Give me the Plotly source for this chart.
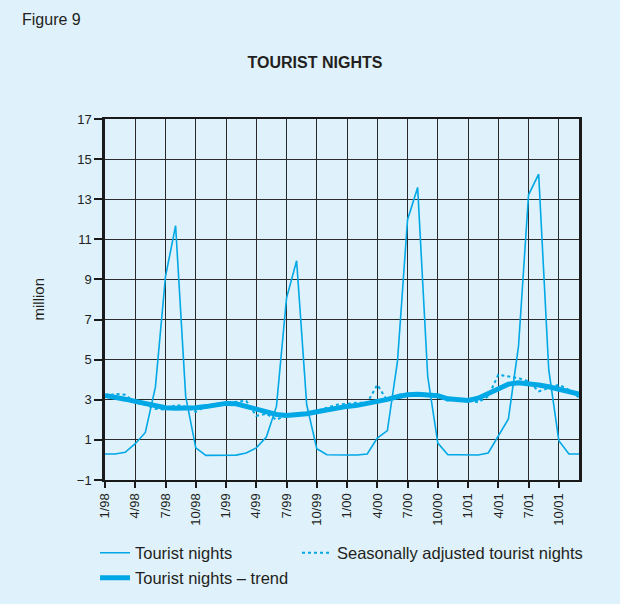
import plotly.graph_objects as go

month_labels = [f"{m}/{y:02d}" for y in (98, 99, 0, 1) for m in range(1, 13)]
months = list(range(48))

tourist_nights = [
    0.30, 0.30, 0.38, 0.81, 1.37, 3.64, 9.15, 11.68, 3.17, 0.60, 0.23, 0.23,
    0.23, 0.24, 0.35, 0.60, 1.14, 2.67, 8.07, 9.93, 2.75, 0.56, 0.26, 0.27,
    0.25, 0.25, 0.30, 1.09, 1.46, 4.91, 11.98, 13.59, 4.16, 0.84, 0.26, 0.26,
    0.25, 0.25, 0.35, 1.17, 2.04, 5.66, 13.22, 14.25, 4.50, 0.96, 0.30, 0.30,
]
seasonally_adjusted = [
    3.15, 3.30, 3.25, 2.85, 2.75, 2.55, 2.50, 2.75, 2.65, 2.40, 2.70, 2.80,
    2.85, 2.90, 2.95, 2.20, 2.30, 2.00, 2.25, 2.30, 2.35, 2.45, 2.60, 2.75,
    2.80, 2.85, 2.85, 3.75, 2.95, 3.25, 3.30, 3.30, 3.30, 3.15, 2.95, 3.05,
    3.00, 2.87, 3.17, 4.25, 4.16, 4.08, 3.92, 3.42, 3.59, 3.75, 3.50, 3.12,
]
trend = [
    3.22, 3.15, 3.03, 2.92, 2.80, 2.68, 2.60, 2.58, 2.58, 2.60, 2.66, 2.75,
    2.82, 2.80, 2.67, 2.50, 2.36, 2.27, 2.22, 2.23, 2.30, 2.40, 2.50, 2.60,
    2.67, 2.72, 2.80, 2.90, 3.02, 3.15, 3.25, 3.28, 3.27, 3.20, 3.05, 2.98,
    2.97, 3.08, 3.30, 3.58, 3.78, 3.85, 3.82, 3.74, 3.65, 3.54, 3.42, 3.28,
]
tick_months = list(range(0, 48, 3))
tick_labels = [month_labels[i] for i in tick_months]
y_ticks = list(range(-1, 18, 2))

BLUE = "#00a8e6"
BG = "#dff1fb"
FONT = "Liberation Sans, Arial, sans-serif"
INK = "#231f20"
W, H = 620, 604

fig = go.Figure()
fig.add_trace(go.Scatter(x=months, y=trend, mode="lines", name="Tourist nights – trend",
                         line=dict(color=BLUE, width=5), legend="legend2"))
fig.add_trace(go.Scatter(x=months, y=seasonally_adjusted, mode="lines",
                         name="Seasonally adjusted tourist nights",
                         line=dict(color=BLUE, width=2, dash="dot"), legend="legend3"))
fig.add_trace(go.Scatter(x=months, y=tourist_nights, mode="lines", name="Tourist nights",
                         line=dict(color=BLUE, width=1.6), legend="legend"))

legend_common = dict(orientation="h", xanchor="left", yanchor="middle",
                     xref="container", yref="container",
                     font=dict(size=16.5), bgcolor="rgba(0,0,0,0)")

fig.update_layout(
    width=W, height=H,
    margin=dict(l=105, r=41, t=119, b=124, autoexpand=False),
    paper_bgcolor=BG, plot_bgcolor=BG,
    font=dict(family=FONT, color=INK, size=13),
    title=dict(text="<b>TOURIST NIGHTS</b>", x=315 / W, xanchor="center",
               y=1 - 62 / H, yanchor="middle", font=dict(size=16, color=INK)),
    showlegend=True,
    legend=dict(x=95 / W, y=1 - 553 / H, **legend_common),
    legend3=dict(x=297 / W, y=1 - 553 / H, **legend_common),
    legend2=dict(x=95 / W, y=1 - 578 / H, **legend_common),
    xaxis=dict(range=[0, 47], tickvals=tick_months, ticktext=tick_labels, tickangle=-90,
               showgrid=True, gridcolor="#2a2a2a", gridwidth=1, zeroline=False,
               showline=True, linecolor="#1a1a1a", linewidth=2, mirror=True,
               ticks="outside", ticklen=6, tickcolor="#1a1a1a", tickwidth=1.5,
               tickfont=dict(size=13), automargin=False),
    yaxis=dict(range=[-1, 17], tickvals=y_ticks, showgrid=True, gridcolor="#2a2a2a",
               gridwidth=1, zeroline=False, showline=True, linecolor="#1a1a1a",
               linewidth=2.5, mirror=True, ticks="outside", ticklen=8,
               tickcolor="#1a1a1a", tickwidth=1.5, tickfont=dict(size=13),
               automargin=False),
    annotations=[
        dict(text="Figure 9", xref="paper", yref="paper", x=(20 - 105) / 474,
             y=(480.3 - 20) / 361, xanchor="left", yanchor="middle", showarrow=False,
             font=dict(size=16, color=INK)),
        dict(text="million", xref="paper", yref="paper", x=(38 - 105) / 474, y=0.5,
             textangle=-90, xanchor="center", yanchor="middle", showarrow=False,
             font=dict(size=15, color=INK)),
    ],
)

fig.write_html("out.html", config={"displayModeBar": False},
               post_script="document.body.style.margin='0';")
